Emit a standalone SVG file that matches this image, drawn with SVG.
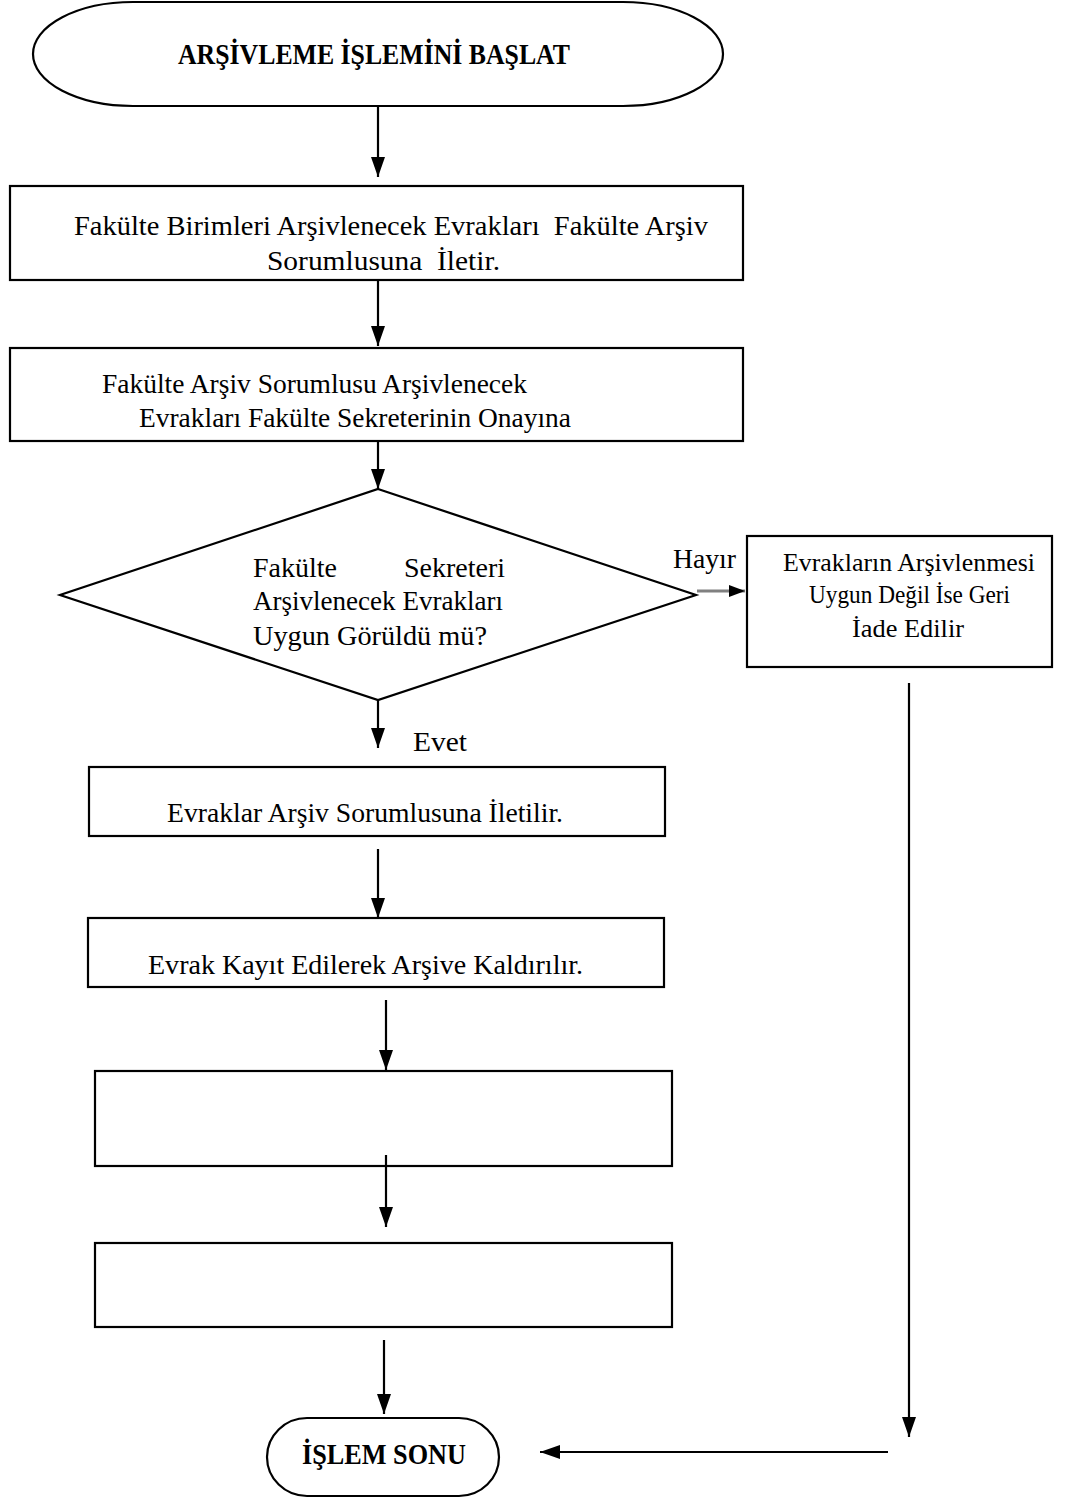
<svg xmlns="http://www.w3.org/2000/svg" width="1089" height="1498" viewBox="0 0 1089 1498">
  <style>
    .shape { fill: #ffffff; stroke: #000000; stroke-width: 2.2; }
    .line { fill: none; stroke: #000000; stroke-width: 2.2; }
    .txt { font-family: "Liberation Serif", "Times New Roman", serif; font-size: 28px; fill: #000000; }
    .small { font-size: 25px; }
    .bold { font-weight: bold; font-size: 29px; }
  </style>
  <defs>
    <marker id="arrow" viewBox="0 0 20 14" refX="20" refY="7" markerWidth="20" markerHeight="14" markerUnits="userSpaceOnUse" orient="auto">
      <path d="M0,0 L20,7 L0,14 Z" fill="#000000"/>
    </marker>
    <marker id="arrowSmall" viewBox="0 0 16 12" refX="16" refY="6" markerWidth="16" markerHeight="12" markerUnits="userSpaceOnUse" orient="auto">
      <path d="M0,0 L16,6 L0,12 Z" fill="#000000"/>
    </marker>
  </defs>

  <g id="start">
    <rect class="shape" x="33" y="2" width="690" height="104" rx="100" ry="52"/>
    <text class="txt bold" x="178" y="64" textLength="392" lengthAdjust="spacingAndGlyphs">ARŞİVLEME İŞLEMİNİ BAŞLAT</text>
  </g>

  <g id="step1">
    <rect class="shape" x="10" y="186" width="733" height="94"/>
    <text class="txt" x="74" y="235" textLength="634" lengthAdjust="spacingAndGlyphs">Fakülte Birimleri Arşivlenecek Evrakları &#160;Fakülte Arşiv</text>
    <text class="txt" x="267" y="270" textLength="233" lengthAdjust="spacingAndGlyphs">Sorumlusuna &#160;İletir.</text>
  </g>

  <g id="step2">
    <rect class="shape" x="10" y="348" width="733" height="93"/>
    <text class="txt" x="102" y="393" textLength="425" lengthAdjust="spacingAndGlyphs">Fakülte Arşiv Sorumlusu Arşivlenecek</text>
    <text class="txt" x="139" y="427" textLength="432" lengthAdjust="spacingAndGlyphs">Evrakları Fakülte Sekreterinin Onayına</text>
  </g>

  <g id="decision">
    <polygon class="shape" points="378,489 696,595 378,700 60,595"/>
    <text class="txt" x="253" y="577">Fakülte</text>
    <text class="txt" x="505" y="577" text-anchor="end">Sekreteri</text>
    <text class="txt" x="253" y="610" textLength="250" lengthAdjust="spacingAndGlyphs">Arşivlenecek Evrakları</text>
    <text class="txt" x="253" y="645" textLength="234" lengthAdjust="spacingAndGlyphs">Uygun Görüldü mü?</text>
  </g>

  <g id="reject">
    <rect class="shape" x="747" y="536" width="305" height="131"/>
    <text class="txt small" x="783" y="571" textLength="252" lengthAdjust="spacingAndGlyphs">Evrakların Arşivlenmesi</text>
    <text class="txt small" x="809" y="603" textLength="201" lengthAdjust="spacingAndGlyphs">Uygun Değil İse Geri</text>
    <text class="txt small" x="852" y="637" textLength="112" lengthAdjust="spacingAndGlyphs">İade Edilir</text>
  </g>

  <g id="step3">
    <rect class="shape" x="89" y="767" width="576" height="69"/>
    <text class="txt" x="167" y="822" textLength="396" lengthAdjust="spacingAndGlyphs">Evraklar Arşiv Sorumlusuna İletilir.</text>
  </g>

  <g id="step4">
    <rect class="shape" x="88" y="918" width="576" height="69"/>
    <text class="txt" x="148" y="974" textLength="435" lengthAdjust="spacingAndGlyphs">Evrak Kayıt Edilerek Arşive Kaldırılır.</text>
  </g>

  <g id="step5">
    <rect class="shape" x="95" y="1071" width="577" height="95"/>
  </g>

  <g id="step6">
    <rect class="shape" x="95" y="1243" width="577" height="84"/>
  </g>

  <g id="end">
    <rect class="shape" x="267" y="1418" width="232" height="78" rx="40" ry="39"/>
    <text class="txt bold" x="302" y="1464" textLength="164" lengthAdjust="spacingAndGlyphs">İŞLEM SONU</text>
  </g>

  <g id="connectors">
    <line class="line" x1="378" y1="106" x2="378" y2="177" marker-end="url(#arrow)"/>
    <line class="line" x1="378" y1="280" x2="378" y2="346" marker-end="url(#arrow)"/>
    <line class="line" x1="378" y1="441" x2="378" y2="489" marker-end="url(#arrow)"/>
    <line class="line" x1="378" y1="700" x2="378" y2="748" marker-end="url(#arrow)"/>
    <line class="line" x1="378" y1="849" x2="378" y2="918" marker-end="url(#arrow)"/>
    <line class="line" x1="386" y1="1000" x2="386" y2="1070" marker-end="url(#arrow)"/>
    <line class="line" x1="386" y1="1155" x2="386" y2="1227" marker-end="url(#arrow)"/>
    <line class="line" x1="384" y1="1340" x2="384" y2="1414" marker-end="url(#arrow)"/>
    <line x1="697" y1="591" x2="745" y2="591" stroke="#808080" stroke-width="3" marker-end="url(#arrowSmall)"/>
    <line class="line" x1="909" y1="683" x2="909" y2="1437" marker-end="url(#arrow)"/>
    <line class="line" x1="888" y1="1452" x2="540" y2="1452" marker-end="url(#arrow)"/>
    <text class="txt" x="673" y="568" textLength="63" lengthAdjust="spacingAndGlyphs">Hayır</text>
    <text class="txt" x="413" y="751" textLength="54" lengthAdjust="spacingAndGlyphs">Evet</text>
  </g>
</svg>
